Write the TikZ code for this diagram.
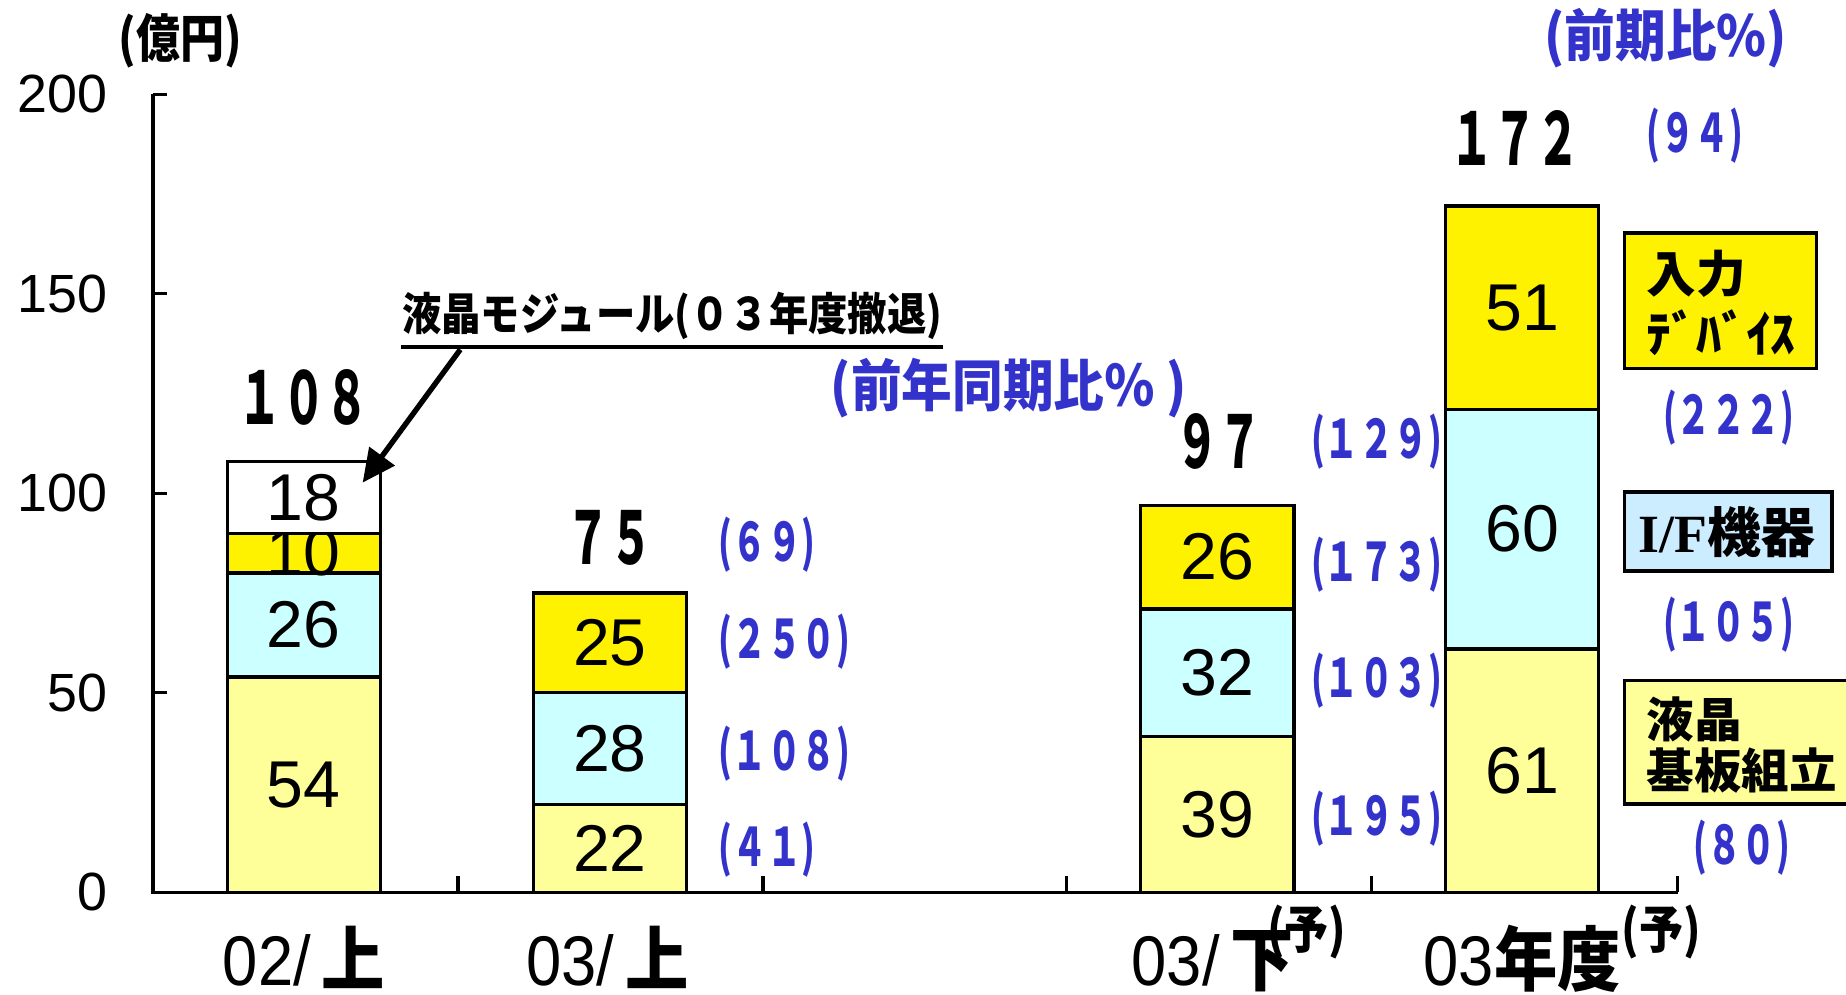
\documentclass[tikz,border=0pt]{standalone}
\usepackage{fontspec}
\setmainfont{Liberation Sans}
\newfontfamily\jp{Noto Sans CJK JP}
\newfontfamily\serifb{Liberation Serif}
\usetikzlibrary{arrows.meta}
\definecolor{lyel}{HTML}{FFFF99}
\definecolor{lcyan}{HTML}{CCFFFF}
\definecolor{ifblue}{HTML}{CCECFF}
\definecolor{pctblue}{HTML}{3333CC}
\newcommand\narrowtext[2]{\scalebox{#1}[1]{#2}}

\tikzset{
  axisline/.style={line width=0.8pt},
  bar/.style={line width=0.8pt},
  barnum/.style={font=\fontsize{16}{16}\selectfont, inner sep=0pt},
  ticklbl/.style={font=\fontsize{13}{13}\selectfont, inner sep=0pt, anchor=east},
  total/.style={font=\jp\bfseries\fontsize{17.5}{18}\selectfont, inner sep=0pt},
  pct/.style={text=pctblue, font=\jp\bfseries\fontsize{12.8}{13}\selectfont, inner sep=0pt, anchor=west},
  pcttitle/.style={text=pctblue, font=\jp\bfseries\fontsize{13.6}{14}\selectfont, inner sep=0pt},
  legtext/.style={font=\jp\bfseries\fontsize{12}{14.5}\selectfont, inner sep=0pt, align=left, anchor=west},
  catlbl/.style={font=\fontsize{17}{17}\selectfont, inner sep=0pt, anchor=base},
  yosoku/.style={font=\jp\bfseries\fontsize{12.5}{13}\selectfont, inner sep=0pt},
}

\begin{document}
\begin{tikzpicture}[x=0.1mm, y=0.1mm]
    \useasboundingbox (0,0) rectangle (1568,845);

    % stacked bars
    \foreach \xa/\lo/\hi/\col/\nm in {193/0/54/lyel/a1, 193/54/80/lcyan/a2, 193/80/90/yellow/a3, 193/90/108/white/a4,
        453/0/22/lyel/b1, 453/22/50/lcyan/b2, 453/50/75/yellow/b3,
        969/0/39/lyel/c1, 969/39/71/lcyan/c2, 969/71/97/yellow/c3,
        1228/0/61/lyel/d1, 1228/61/121/lcyan/d2, 1228/121/172/yellow/d3}{
        \draw[bar, fill=\col] (\xa,{87+3.39*\lo}) rectangle ({\xa+130},{87+3.39*\hi});
        \pgfmathtruncatemacro\val{\hi-\lo}
        \node[barnum] (\nm) at ({\xa+65},{87+3.39*(\lo+\hi)/2}) {\val};
    }

    % axes
    \draw[axisline] (130,765) -- (130,87) -- (1425,87);
    \foreach \v in {0,50,...,200}{
        \draw[axisline] (130,{87+3.39*\v}) -- ++(12,0);
        \node[ticklbl] (y\v) at (92,{87+3.39*\v}) {\v};
    }
    \foreach \x in {389,648,906,1165,1425}
        \draw[axisline] (\x,87) -- ++(0,14);

    \node[font=\jp\bfseries\fontsize{12.5}{13}\selectfont, inner sep=0pt] (unit) at (153,810) {\narrowtext{0.85}{(億円)}};

    % totals
    \node[total] (tot1) at (258,507) {\narrowtext{0.6}{１０８}};
    \node[total] (tot2) at (518,388) {\narrowtext{0.6}{７５}};
    \node[total] (tot3) at (1035,470) {\narrowtext{0.6}{９７}};
    \node[total] (tot4) at (1287,728) {\narrowtext{0.6}{１７２}};

    % note on the withdrawn module
    \node[font=\jp\bfseries\fontsize{10.8}{11}\selectfont, inner sep=0pt] (note) at (571,577) {\narrowtext{0.88}{液晶モジュール(０３年度撤退)}};
    \draw[line width=1pt] ([yshift=-0.6mm]note.south west) -- ([yshift=-0.6mm]note.south east);
    \coordinate (modtip) at (308,435);
    \draw[line width=1.3pt, -{Triangle[length=2.8mm, width=2.6mm]}] ([xshift=5mm, yshift=-0.8mm]note.south west) -- (modtip);

    % ratios
    \node[pcttitle] (yoy) at (857,515) {\narrowtext{0.9}{(前年同期比％ )}};
    \node[pcttitle] (qoq) at (1415,813) {\narrowtext{0.9}{(前期比\%)}};

    \node[pct] (p69) at (610,382) {\narrowtext{0.65}{(６９)}};
    \node[pct] (p250) at (610,300) {\narrowtext{0.65}{(２５０)}};
    \node[pct] (p108) at (610,205) {\narrowtext{0.65}{(１０８)}};
    \node[pct] (p41) at (610,123) {\narrowtext{0.65}{(４１)}};

    \node[pct] (p129) at (1113,470) {\narrowtext{0.65}{(１２９)}};
    \node[pct] (p173) at (1113,365) {\narrowtext{0.65}{(１７３)}};
    \node[pct] (p103) at (1113,267) {\narrowtext{0.65}{(１０３)}};
    \node[pct] (p195) at (1113,150) {\narrowtext{0.65}{(１９５)}};

    \node[pct] (p94) at (1398,730) {\narrowtext{0.65}{(９４)}};
    \node[pct] (p222) at (1412,490) {\narrowtext{0.65}{(２２２)}};
    \node[pct] (p105) at (1412,314) {\narrowtext{0.65}{(１０５)}};
    \node[pct] (p80) at (1438,125) {\narrowtext{0.65}{(８０)}};

    % legend
    \draw[bar, fill=yellow] (1380,532) rectangle (1543,647);
    \node[legtext] (leg1) at (1398,588) {入力\\ﾃﾞﾊﾞｲｽ};
    \draw[bar, fill=ifblue] (1380,360) rectangle (1556,427);
    \node[font=\jp\bfseries\fontsize{13}{13}\selectfont, inner sep=0pt] (leg2) at (1467,393) {{\serifb\bfseries I/F}機器};
    \draw[bar, fill=lyel] (1380,162) rectangle (1580,267);
    \node[legtext, font=\jp\bfseries\fontsize{11.5}{12.3}\selectfont] (leg3) at (1398,212) {液晶\\基板組立};

    % categories
    \node[catlbl] (cat1) at (258,8) {\narrowtext{0.9}{02/\,{\jp\bfseries 上}}};
    \node[catlbl] (cat2) at (516,8) {\narrowtext{0.9}{03/\,{\jp\bfseries 上}}};
    \node[catlbl] (cat3) at (1030,8) {\narrowtext{0.9}{03/\,{\jp\bfseries 下}}};
    \node[catlbl] (cat4) at (1293,8) {\narrowtext{0.9}{03{\jp\bfseries 年度}}};
    \node[yosoku] (fc1) at (1110,53) {\narrowtext{0.85}{(予)}};
    \node[yosoku] (fc2) at (1411,53) {\narrowtext{0.85}{(予)}};
\end{tikzpicture}
\end{document}
